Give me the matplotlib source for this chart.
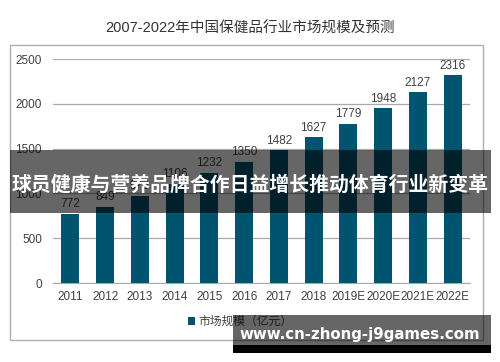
import matplotlib
matplotlib.use("Agg")
import matplotlib.pyplot as plt
from matplotlib.patches import Rectangle

plt.rcParams['font.family'] = ['Liberation Sans', 'Noto Sans CJK SC', 'DejaVu Sans']

years = ["2011", "2012", "2013", "2014", "2015", "2016", "2017", "2018",
         "2019E", "2020E", "2021E", "2022E"]
market_size = [772, 849, 976, 1106, 1232, 1350, 1482, 1627, 1779, 1948, 2127, 2316]
y_ticks = [0, 500, 1000, 1500, 2000, 2500]

title = "2007-2022年中国保健品行业市场规模及预测"
legend_label = "市场规模（亿元）"
banner_text = "球员健康与营养品牌合作日益增长推动体育行业新变革"
watermark = "www.cn-zhong-j9games.com"

bar_color = "#005470"
text_color = "#404040"

fig = plt.figure(figsize=(5, 3.62), dpi=100)
W, H = 500, 362


def fx(px):
    return px / W


def fy(py):
    return 1 - py / H


# outer chart frame
fig.patches.append(Rectangle((fx(10), fy(340)), fx(473), 295 / H, transform=fig.transFigure,
                             fill=False, edgecolor="#b0b0b0", linewidth=1.0, zorder=0))

ax = fig.add_axes([fx(53), fy(283), fx(417), 224 / H])
x = range(len(years))
bars = ax.bar(x, market_size, width=0.52, color=bar_color, zorder=3, label=legend_label)
for xi, v in zip(x, market_size):
    ax.text(xi, v + 40, str(v), ha="center", va="bottom", fontsize=8.5, color=text_color)

ax.set_xlim(-0.5, len(years) - 0.5)
ax.set_ylim(0, 2500)
ax.set_yticks(y_ticks)
ax.set_xticks(list(x))
ax.set_xticklabels(years)
ax.tick_params(axis="both", length=0, labelsize=8.5, labelcolor=text_color)
ax.tick_params(axis="y", pad=8)
ax.tick_params(axis="x", pad=6)
ax.yaxis.grid(True, color="#a8a8a8", linewidth=0.9, zorder=0)
for s in ["left", "right", "top"]:
    ax.spines[s].set_visible(False)
ax.spines["bottom"].set_color("#a8a8a8")
ax.set_facecolor("none")

fig.text(0.5, fy(29), title, ha="center", va="center", fontsize=10.5, color="#333333")

leg = fig.legend(handles=[bars], labels=[legend_label], loc="center", bbox_to_anchor=(fx(240), fy(322)),
                 frameon=False, fontsize=8.5, handlelength=0.6, handleheight=0.6, handletextpad=0.3)
for t in leg.get_texts():
    t.set_color(text_color)

# banner overlay
fig.patches.append(Rectangle((fx(10), fy(213)), fx(481), 63 / H, transform=fig.transFigure,
                             facecolor="black", alpha=0.6, edgecolor="none", zorder=10))
fig.text(fx(250), fy(184), banner_text, ha="center", va="center", fontsize=14.3, fontweight="bold",
         color="white", family=['Noto Sans CJK SC', 'DejaVu Sans'], zorder=11)

# watermark box
fig.patches.append(Rectangle((fx(233), fy(345)), fx(258), 30 / H, transform=fig.transFigure,
                             facecolor="black", alpha=0.6, edgecolor="none", zorder=10))
fig.patches.append(Rectangle((fx(233), fy(353)), fx(258), 8 / H, transform=fig.transFigure,
                             facecolor="black", edgecolor="none", zorder=10))
fig.text(fx(360), fy(334), watermark, ha="center", va="center", fontsize=10.8, fontweight="bold",
         color="white", family=['DejaVu Sans'], zorder=11)

fig.savefig("out.png", dpi=100)
